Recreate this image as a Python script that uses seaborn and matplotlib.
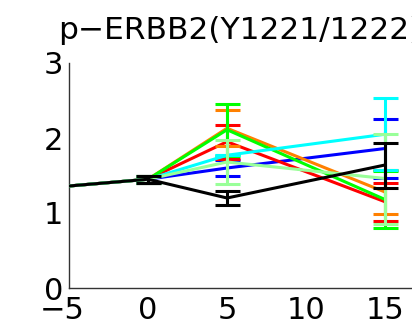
import matplotlib
matplotlib.use("Agg")
import matplotlib.pyplot as plt
import matplotlib.transforms as mtransforms
import seaborn as sns
import pandas as pd
import numpy as np

sns.set_style("white")
plt.rcParams['font.family'] = ['DejaVu Sans']

times = [-5, 0, 5, 15]
series_names = ["blue", "red", "orange", "green", "cyan", "lightgreen", "black"]
colors = {"blue": "#0000ff", "red": "#ff0000", "orange": "#ff8000", "green": "#00ff00",
          "cyan": "#00ffff", "lightgreen": "#99ff99", "black": "#000000"}

means = {
    "blue":       [1.36, 1.45, 1.60, 1.86],
    "red":        [1.36, 1.45, 1.95, 1.15],
    "orange":     [1.36, 1.45, 2.13, 1.28],
    "green":      [1.36, 1.45, 2.11, 1.18],
    "cyan":       [1.36, 1.45, 1.77, 2.05],
    "lightgreen": [1.36, 1.45, 1.68, 1.46],
    "black":      [1.36, 1.45, 1.20, 1.64],
}
errs = {
    "blue":       [0.0, 0.05, 0.11, 0.39],
    "red":        [0.0, 0.05, 0.23, 0.25],
    "orange":     [0.0, 0.05, 0.24, 0.29],
    "green":      [0.0, 0.05, 0.35, 0.38],
    "cyan":       [0.0, 0.05, 0.0, 0.48],
    "lightgreen": [0.0, 0.05, 0.29, 0.60],
    "black":      [0.0, 0.05, 0.09, 0.30],
}
xtick_values = [-5, 0, 5, 10, 15]
xtick_labels = ["\u22125", "0", "5", "10", "15"]
ytick_values = [0, 1, 2, 3]
title = "p\u2212ERBB2(Y1221/1222)"

rows = []
for s in series_names:
    for t, m, e in zip(times, means[s], errs[s]):
        rows.append({"time": t, "value": m, "err": e, "series": s})
df = pd.DataFrame(rows)

W, H = 412, 327
fig = plt.figure(figsize=(W / 100, H / 100), dpi=100)
ax = fig.add_axes([69 / W, (H - 288) / H, 395 / W, 225 / H])

for s in series_names:
    sub = df[df["series"] == s]
    sns.lineplot(data=sub, x="time", y="value", color=colors[s], lw=2.2, ax=ax,
                 legend=False, zorder=3)
    eb = sub[sub["time"] >= 0]
    ax.errorbar(eb["time"], eb["value"], yerr=eb["err"], fmt="none", ecolor=colors[s],
                elinewidth=2.2, capsize=9, capthick=2.2, zorder=3)

ax.set_xlim(-5, 20)
ax.set_ylim(0, 3)
ax.set_xticks(xtick_values)
ax.set_xticklabels(xtick_labels)
ax.set_yticks(ytick_values)
ax.set_xlabel("")
ax.set_ylabel("")
for side in ["top", "right"]:
    ax.spines[side].set_visible(False)
for side in ["left", "bottom"]:
    ax.spines[side].set_color("#333333")
    ax.spines[side].set_linewidth(1.0)
ax.tick_params(axis="both", direction="in", length=3, width=0.8, color="#555555",
               labelsize=22, labelcolor="black")
ax.tick_params(axis="x", pad=5.5)
ax.tick_params(axis="y", pad=4)

# shift the first x label slightly left as in the reference
lab0 = ax.get_xticklabels()[0]
lab0.set_transform(lab0.get_transform() + mtransforms.ScaledTranslation(-7 / 100, 0, fig.dpi_scale_trans))

fig.text(58 / W, 1 - 39 / H, title, fontsize=22.5, ha="left",
         va="baseline", color="black")

fig.savefig("out.png", dpi=100)
